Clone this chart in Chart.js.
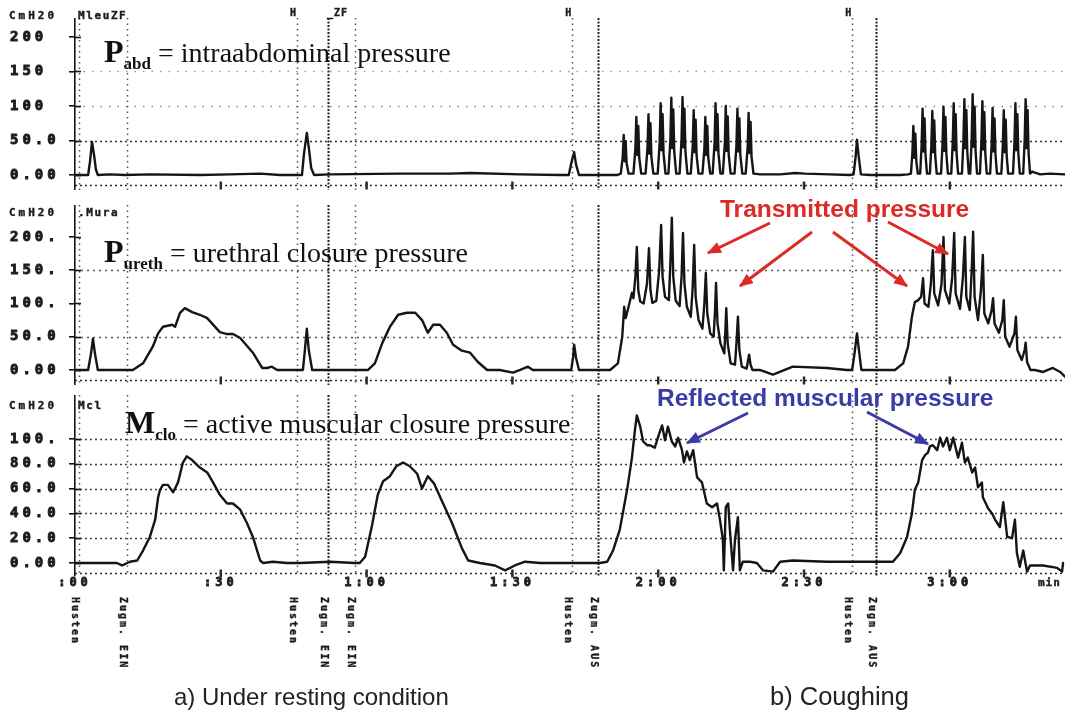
<!DOCTYPE html>
<html>
<head>
<meta charset="utf-8">
<script src="https://cdn.jsdelivr.net/npm/chart.js@4.4.1/dist/chart.umd.min.js"></script>
<style>
  html, body { margin: 0; padding: 0; background: #fff; }
  #wrap { position: relative; width: 1070px; height: 716px; overflow: hidden; background: #fff; }
  .panel { position: absolute; left: 0; width: 1070px; }
  .panel canvas { display: block; }
  .lbl { position: absolute; white-space: nowrap; line-height: 1; }
  .mono { font-family: 'DejaVu Sans Mono', monospace; font-weight: bold; color: #1c1c1c; -webkit-text-stroke: 0.4px #1c1c1c; }
  .hdr { font-size: 11px; letter-spacing: 3px; }
  .mark { font-size: 10px; letter-spacing: 1px; }
  .vert { font-size: 10px; letter-spacing: 2px; writing-mode: vertical-rl; }
  .serif { font-family: 'Liberation Serif', 'Times New Roman', serif; font-size: 28px; color: #111; }
  .serif .big { font-size: 32px; font-weight: bold; }
  .serif .sub { font-size: 17px; font-weight: bold; vertical-align: -7px; }
  .note { font-family: 'Liberation Sans', Arial, sans-serif; font-weight: bold; font-size: 24.5px; }
  .cap { font-family: 'Liberation Sans', Arial, sans-serif; font-size: 24px; color: #222; }
  svg { position: absolute; left: 0; top: 0; }
</style>
</head>
<body>
<div id="wrap">
  <div class="panel" style="top:18px"><canvas id="cAbd" width="1070" height="172"></canvas></div>
  <div class="panel" style="top:205px"><canvas id="cUre" width="1070" height="180"></canvas></div>
  <div class="panel" style="top:395px"><canvas id="cClo" width="1070" height="205"></canvas></div>

  <!-- channel headers -->
  <div class="lbl mono hdr" style="left:9px;top:10px">CmH20</div>
  <div class="lbl mono hdr" style="left:78px;top:10px;letter-spacing:1.6px">MleuZF</div>
  <div class="lbl mono hdr" style="left:9px;top:207px">CmH20</div>
  <div class="lbl mono hdr" style="left:78px;top:207px;letter-spacing:1.6px">.Mura</div>
  <div class="lbl mono hdr" style="left:9px;top:400px">CmH20</div>
  <div class="lbl mono hdr" style="left:78px;top:400px;letter-spacing:1.6px">Mcl</div>
  <div class="lbl mono mark" style="left:327px;top:8px">_ZF</div>
  <div class="lbl mono" style="left:1038px;top:577px;font-size:11px;letter-spacing:1px">min</div>

  <!-- channel names -->
  <div class="lbl serif" style="left:104px;top:35px"><span class="big">P</span><span class="sub">abd</span> = intraabdominal pressure</div>
  <div class="lbl serif" style="left:104px;top:235px"><span class="big">P</span><span class="sub">ureth</span> = urethral closure pressure</div>
  <div class="lbl serif" style="left:125px;top:406px"><span class="big">M</span><span class="sub">clo</span> = active muscular closure pressure</div>

  <!-- annotations -->
  <div class="lbl note" style="left:720px;top:197px;color:#dc2a26">Transmitted pressure</div>
  <div class="lbl note" style="left:657px;top:386px;color:#3b3ba4">Reflected muscular pressure</div>
  <svg width="1070" height="716">
    <defs>
      <marker id="headRed" viewBox="0 0 12 10" refX="11" refY="5" markerWidth="14" markerHeight="12" orient="auto" markerUnits="userSpaceOnUse">
        <path d="M0,0 L12,5 L0,10 z" fill="#dc2a26"/>
      </marker>
      <marker id="headBlue" viewBox="0 0 12 10" refX="11" refY="5" markerWidth="14" markerHeight="12" orient="auto" markerUnits="userSpaceOnUse">
        <path d="M0,0 L12,5 L0,10 z" fill="#3b3ba4"/>
      </marker>
    </defs>
    <g stroke="#dc2a26" stroke-width="3" marker-end="url(#headRed)">
      <line x1="770" y1="223" x2="708" y2="253"/>
      <line x1="812" y1="232" x2="740" y2="286"/>
      <line x1="833" y1="232" x2="907" y2="286"/>
      <line x1="888" y1="222" x2="948" y2="254"/>
    </g>
    <g stroke="#3b3ba4" stroke-width="3" marker-end="url(#headBlue)">
      <line x1="748" y1="413" x2="687" y2="443"/>
      <line x1="867" y1="412" x2="928" y2="444"/>
    </g>
  </svg>

  <div class="lbl cap" style="left:174px;top:685px">a) Under resting condition</div>
  <div class="lbl cap" style="left:770px;top:684px;font-size:25.5px">b) Coughing</div>
</div>

<script>
// ---------- time axis (seconds) ----------
const TIME_TICKS = [0, 30, 60, 90, 120, 150, 180];
const TIME_LABELS = [':00', ':30', '1:00', '1:30', '2:00', '2:30', '3:00'];
const TIME_MAX = 203.7;

// ---------- event marks ----------
const EVENT_TIMES = [0.9, 10.7, 45.7, 52.1, 57.6, 102.3, 107.6, 159.9, 164.8];
const EVENT_NAMES = ['Husten', 'Zugm. EIN', 'Husten', 'Zugm. EIN', 'Zugm. EIN',
                     'Husten', 'Zugm. AUS', 'Husten', 'Zugm. AUS'];

// ---------- P abd: intraabdominal pressure (cmH2O) ----------
const ABD_TICKS = [0, 50, 100, 150, 200];
const ABD_TICK_LABELS = ['0.00', '50.0', '100', '150', '200'];
const abdTime = [
  0, 2.7, 3.1, 3.5, 3.9, 4.3, 4.7, 7.2, 10.3, 15.4, 25.7, 31.9, 38.1, 42.2,
  46.7, 47.1, 47.7, 48.1, 48.6, 49.2, 52.5, 66.9, 77.2, 81.3, 91.6, 99.8,
  101.6, 102.2, 102.7, 103.1, 103.7, 108.0, 111.5,
  // first cough series
  112.3, 112.7, 112.9, 113.1, 113.3, 113.5, 113.9,
  114.9, 115.3, 115.5, 115.7, 115.9, 116.1, 116.5,
  117.4, 117.8, 118.0, 118.2, 118.4, 118.6, 119.0,
  119.9, 120.3, 120.5, 120.7, 120.9, 121.1, 121.5,
  122.1, 122.5, 122.7, 122.9, 123.1, 123.3, 123.7,
  124.4, 124.8, 125.0, 125.2, 125.4, 125.6, 126.0,
  126.7, 127.1, 127.3, 127.5, 127.7, 127.9, 128.3,
  129.1, 129.5, 129.7, 129.9, 130.1, 130.3, 130.7,
  131.2, 131.6, 131.8, 132.0, 132.2, 132.4, 132.8,
  133.3, 133.7, 133.9, 134.1, 134.3, 134.5, 134.9,
  135.7, 136.1, 136.3, 136.5, 136.7, 136.9, 137.3,
  138.0, 138.4, 138.6, 138.8, 139.0, 139.2, 139.6,
  141.0, 145.1, 148.2, 150.2, 155.3, 159.5,
  160.2, 160.6, 160.9, 161.2, 161.7,
  163.6, 169.8, 171.4,
  // second cough series
  172.0, 172.3, 172.5, 172.7, 172.9, 173.1, 173.4,
  173.9, 174.2, 174.4, 174.6, 174.8, 175.0, 175.3,
  175.9, 176.2, 176.4, 176.6, 176.8, 177.0, 177.3,
  178.2, 178.5, 178.7, 178.9, 179.1, 179.3, 179.6,
  180.3, 180.6, 180.8, 181.0, 181.2, 181.4, 181.7,
  182.5, 182.8, 183.0, 183.2, 183.4, 183.6, 183.9,
  184.2, 184.5, 184.7, 184.9, 185.1, 185.3, 185.6,
  186.2, 186.5, 186.7, 186.9, 187.1, 187.3, 187.6,
  188.3, 188.6, 188.8, 189.0, 189.2, 189.4, 189.7,
  190.6, 190.9, 191.1, 191.3, 191.5, 191.7, 192.0,
  193.0, 193.3, 193.5, 193.7, 193.9, 194.1, 194.4,
  195.1, 195.4, 195.6, 195.8, 196.0, 196.2, 196.5,
  196.9, 198.6, 200.6, 203.7
];
const abdValue = [
  0, 0, 20, 48, 30, 8, 0, 1, 0, 1, 0, 1, 2, 0,
  0, 30, 61, 40, 10, 0, 1, 2, 2, 3, 1, 0,
  0, 20, 33, 15, 0, 0, 0,
  2, 26, 58, 20, 49, 17, 2,
  2, 38, 84, 29, 71, 25, 2,
  2, 40, 88, 31, 75, 26, 2,
  2, 47, 104, 36, 88, 31, 2,
  2, 50, 112, 39, 95, 34, 2,
  2, 51, 113, 40, 96, 34, 2,
  2, 42, 94, 33, 80, 28, 2,
  2, 38, 84, 29, 71, 25, 2,
  2, 47, 104, 36, 88, 31, 2,
  2, 45, 100, 35, 85, 30, 2,
  2, 43, 96, 34, 82, 29, 2,
  2, 40, 90, 32, 77, 27, 2,
  1, 1, 3, 2, 1, 0,
  1, 25, 51, 30, 1,
  0, 0, 1,
  2, 32, 71, 25, 60, 21, 2,
  2, 43, 96, 34, 82, 29, 2,
  2, 42, 93, 33, 79, 28, 2,
  2, 45, 99, 35, 84, 30, 2,
  2, 47, 104, 36, 88, 31, 2,
  2, 50, 110, 39, 94, 33, 2,
  2, 53, 117, 41, 99, 35, 2,
  2, 48, 107, 37, 91, 32, 2,
  2, 44, 97, 34, 82, 29, 2,
  2, 42, 94, 33, 80, 28, 2,
  2, 47, 104, 36, 88, 31, 2,
  2, 50, 110, 39, 94, 33, 2,
  5, 1, 2, 1
];

// ---------- P ureth: urethral closure pressure (cmH2O) ----------
const URE_TICKS = [0, 50, 100, 150, 200];
const URE_TICK_LABELS = ['0.00', '50.0', '100.', '150.', '200.'];
const ureTime = [
  0, 2.7, 3.3, 3.7, 4.1, 4.7, 11.9,
  14.0, 16.0, 17.1, 18.1, 20.0, 20.6, 21.6, 22.6, 24.1, 25.7, 27.2, 29.8, 31.3,
  32.5, 34.0, 36.6, 38.5, 39.5, 40.5, 41.6, 46.3,
  46.9, 47.3, 47.7, 48.1, 48.8, 58.6,
  60.3, 61.7, 63.2, 64.8, 66.5, 68.3, 70.0, 71.4, 72.6, 73.7, 75.1, 76.5,
  77.8, 79.6, 81.3, 82.9, 84.8, 87.4, 90.1, 91.6, 93.2, 94.2, 101.4,
  102.1, 102.5, 102.7, 103.1, 103.7, 108.0, 110.1,
  111.7, 112.6, 113.0, 113.3, 113.8, 114.6, 114.9, 115.3, 115.6, 115.9,
  116.3, 117.0, 117.7, 118.1, 118.4, 118.8, 119.6, 120.2, 120.6, 120.9,
  121.4, 122.2, 122.5, 122.8, 123.1, 123.6, 124.4, 124.8, 125.1, 125.4,
  125.9, 126.7, 127.1, 127.4, 127.7, 128.3, 129.1, 129.5, 129.8, 130.1,
  130.7, 131.4, 131.7, 131.9, 132.2, 132.8, 133.6, 133.8, 134.0, 134.3,
  134.9, 135.8, 136.1, 136.4, 136.7, 137.2, 138.2, 138.5, 138.7, 139.0, 139.4,
  140.9, 143.6, 147.7, 154.7, 158.8,
  159.9, 160.4, 160.9, 161.3, 161.8, 164.2, 168.7,
  170.4, 171.4, 172.2, 172.8, 173.5,
  174.1, 174.5, 174.8, 175.6, 176.1, 176.5, 176.8, 177.6, 178.3, 178.7,
  179.0, 179.9, 180.5, 180.9, 181.2, 182.1, 182.7, 183.1, 183.4, 184.1,
  184.5, 184.8, 185.1, 185.8, 186.4, 186.8, 187.1, 187.9, 188.6, 188.9,
  189.2, 190.1, 190.8, 191.1, 191.4, 192.3, 193.3, 193.6, 193.9, 194.8,
  195.4, 195.6, 195.9, 196.6, 197.5, 199.2, 201.2, 202.7, 203.7
];
const ureValue = [
  0, 0, 25, 47, 25, 0, 0,
  10, 35, 55, 65, 68, 65, 86, 93, 87, 83, 78, 57, 54,
  54, 48, 26, 3, 3, 5, 0, 0,
  0, 30, 62, 30, 0, 0,
  0, 10, 40, 65, 83, 86, 86, 75, 56, 68, 68, 56,
  38, 29, 26, 12, 0, 0, -4, 0, 5, 0, 0,
  0, 20, 38, 18, 0, 0, 0,
  10, 50, 95, 78, 92, 116, 108, 140, 185, 120,
  103, 100, 130, 183, 120, 101, 104, 150, 218, 140,
  110, 105, 160, 229, 140, 104, 96, 140, 206, 130,
  95, 80, 125, 188, 110, 75, 62, 100, 146, 85,
  55, 50, 90, 131, 70, 40, 25, 55, 93, 40,
  10, 8, 40, 80, 30, 5, 2, 15, 23, 8, 0,
  0, -7, 5, 3, 0,
  0, 25, 55, 30, 0, 0, 0,
  10, 35, 80, 102, 105,
  110, 138, 100, 95, 130, 180, 115, 97, 130, 200,
  120, 100, 140, 206, 115, 92, 140, 200, 110, 90,
  150, 208, 110, 75, 120, 173, 85, 70, 90, 108,
  70, 56, 75, 105, 50, 35, 55, 80, 30, 15,
  30, 41, 12, 0, 0, -3, 3, -3, -10
];

// ---------- M clo: active muscular closure pressure (cmH2O) ----------
const CLO_TICKS = [0, 20, 40, 60, 80, 100];
const CLO_TICK_LABELS = ['0.00', '20.0', '40.0', '60.0', '80.0', '100.'];
const cloTime = [
  0, 8.6, 9.7, 11.3, 12.8, 14.0, 15.4, 16.5, 17.1, 17.5,
  18.1, 19.1, 20.2, 21.2, 22.2, 23.0, 24.1, 25.7, 27.2, 28.4,
  29.8, 31.3, 32.5, 34.0, 35.4, 36.6, 38.1, 38.7, 40.7, 43.6,
  46.3, 52.5, 57.6,
  58.6, 59.7, 61.1, 62.3, 63.4, 64.8, 66.1, 67.5, 68.9, 70.4,
  71.4, 72.6, 73.9, 75.5, 77.6, 79.6, 80.9, 83.3, 86.4, 88.5,
  90.5, 92.6, 95.7, 108.0,
  109.5, 110.7, 112.1, 113.6, 114.6, 115.2, 115.6, 116.3, 116.9, 117.7,
  118.3, 119.3, 120.0, 120.8, 121.4, 122.0, 122.8, 123.5, 124.1, 124.9,
  125.3, 125.9, 126.5, 127.2, 128.0, 129.0, 130.0, 131.1, 132.1, 132.7,
  133.3, 133.5, 133.9, 134.4, 134.8, 135.4, 135.8, 136.4, 136.8, 137.4,
  138.9, 140.3, 141.6, 143.6, 145.1, 147.7, 154.7, 161.5, 168.3,
  169.8, 171.2, 172.2, 172.8, 173.5, 174.3, 174.9, 175.5, 175.9, 176.5,
  177.4, 178.0, 178.6, 179.4, 180.0, 180.7, 181.7, 182.5, 183.1, 183.7,
  184.6, 185.2, 185.8, 186.6, 186.8, 187.9, 188.7, 189.3, 190.3, 191.0,
  191.8, 192.8, 193.4, 193.8, 194.4, 195.1, 195.9, 196.5, 199.2, 202.1,
  203.1, 203.3
];
const cloValue = [
  0, 0, -2, 1, 2, 10, 21, 35, 53, 59,
  63, 63, 57, 65, 81, 86, 83, 77, 73, 65,
  55, 48, 48, 43, 32, 21, 2, 0, 1, 0,
  0, 1, 0,
  0, 5, 30, 55, 66, 70, 78, 81, 78, 72,
  60, 70, 64, 50, 32, 12, 2, 0, -2, -6,
  -2, 1, 0, 0,
  1, 10, 27, 59, 85, 107, 119, 110, 98, 95,
  95, 93, 102, 111, 99, 110, 98, 94, 101, 91,
  81, 90, 83, 91, 69, 65, 48, 45, 48, 35,
  19, -6, 45, 48, 24, -6, 19, 37, -6, 1,
  1, 0, -6, -7, 1, 2, 1, 1, 1,
  8, 21, 40, 59, 65, 83, 87, 89, 94, 95,
  91, 101, 94, 101, 91, 101, 85, 97, 81, 85,
  73, 77, 61, 65, 53, 44, 40, 35, 29, 49,
  21, 20, 35, 8, -3, 10, -7, -2, -2, -4,
  -7, 0
];

// ---------- drawing helpers ----------
const INK = '#151515';
const TICK_FONT = { family: "'DejaVu Sans Mono', monospace", weight: 'bold' };

// Dotted reference levels, the dotted time rule and the event markers.
const recorderGrid = {
  id: 'recorderGrid',
  beforeDraw(chart) { chart.ctx.letterSpacing = '4px'; },
  beforeDatasetsDraw(chart, args, o) {
    const { ctx, chartArea: a, scales: { x, y } } = chart;
    ctx.save();
    ctx.letterSpacing = '0px';
    ctx.lineCap = 'butt';

    o.levels.forEach(lv => {
      const py = Math.round(y.getPixelForValue(lv.value)) + 0.5;
      ctx.setLineDash(lv.dash);
      ctx.strokeStyle = lv.color;
      ctx.lineWidth = lv.width;
      ctx.beginPath(); ctx.moveTo(a.left, py); ctx.lineTo(a.right, py); ctx.stroke();
    });

    const ry = Math.round(y.getPixelForValue(o.rule)) + 0.5;
    ctx.setLineDash([2, 3]);
    ctx.strokeStyle = '#2a2a2a';
    ctx.lineWidth = 1.5;
    ctx.beginPath(); ctx.moveTo(a.left, ry); ctx.lineTo(a.right, ry); ctx.stroke();
    ctx.setLineDash([]);
    ctx.lineWidth = 2.5;
    TIME_TICKS.slice(1).forEach(t => {
      const px = x.getPixelForValue(t);
      ctx.beginPath(); ctx.moveTo(px, ry - 4); ctx.lineTo(px, ry + 4); ctx.stroke();
    });

    EVENT_TIMES.forEach((t, i) => {
      const px = Math.round(x.getPixelForValue(t)) + 0.5;
      const dense = o.dense.includes(i);
      ctx.setLineDash(dense ? [2, 1.5] : [1.5, 4]);
      ctx.strokeStyle = dense ? '#222' : '#555';
      ctx.lineWidth = dense ? 2 : 1.5;
      ctx.beginPath(); ctx.moveTo(px, a.top); ctx.lineTo(px, a.bottom); ctx.stroke();
    });

    // right-hand arm of the "+" tick marks on the pressure axis
    ctx.setLineDash([]);
    ctx.strokeStyle = INK;
    ctx.lineWidth = 1.6;
    y.ticks.forEach(tk => {
      const py = Math.round(y.getPixelForValue(tk.value)) + 0.5;
      ctx.beginPath(); ctx.moveTo(a.left, py); ctx.lineTo(a.left + 6, py); ctx.stroke();
    });
    ctx.restore();
  }
};

function makePanel(id, time, value, yMin, yMax, ticks, tickLabels, gridOpts, showTime) {
  return new Chart(document.getElementById(id), {
    type: 'line',
    data: {
      datasets: [{
        data: time.map((t, i) => ({ x: t, y: value[i] })),
        borderColor: INK,
        borderWidth: 2.4,
        pointRadius: 0,
        tension: 0,
        fill: false,
        borderJoinStyle: 'round',
        borderCapStyle: 'round'
      }]
    },
    options: {
      responsive: false,
      animation: false,
      devicePixelRatio: 1,
      layout: { padding: { left: 10, right: 5, top: 0, bottom: 0 } },
      plugins: { legend: { display: false }, tooltip: { enabled: false }, recorderGrid: gridOpts },
      scales: {
        x: {
          type: 'linear', min: 0, max: TIME_MAX, display: showTime,
          grid: { display: false, drawTicks: false, tickLength: 0 },
          border: { display: false },
          afterBuildTicks: s => { s.ticks = TIME_TICKS.map(v => ({ value: v })); },
          afterFit: s => {
            if (showTime) s.height = 24;
            s.paddingLeft = 0; s.paddingRight = 0;
          },
          ticks: {
            padding: 0, maxRotation: 0, autoSkip: false, color: '#1c1c1c',
            textStrokeColor: '#1c1c1c', textStrokeWidth: 0.8,
            font: { ...TICK_FONT, size: 12 },
            callback: v => TIME_LABELS[TIME_TICKS.indexOf(v)]
          }
        },
        y: {
          type: 'linear', min: yMin, max: yMax, position: 'left',
          afterBuildTicks: s => { s.ticks = ticks.map(v => ({ value: v })); },
          afterFit: s => { s.width = 65; s.paddingTop = 0; s.paddingBottom = 0; },
          grid: { drawOnChartArea: false, drawTicks: true, tickLength: 6, color: INK, lineWidth: 1.6 },
          border: { display: true, color: INK, width: 1.6 },
          ticks: {
            crossAlign: 'far', autoSkip: false, color: '#1c1c1c',
            textStrokeColor: '#1c1c1c', textStrokeWidth: 0.9,
            font: { ...TICK_FONT, size: 14 },
            callback: v => tickLabels[ticks.indexOf(v)]
          }
        }
      }
    },
    plugins: [recorderGrid]
  });
}

const DENSE = [3, 6, 8];

makePanel('cAbd', abdTime, abdValue, -21.7, 227.5, ABD_TICKS, ABD_TICK_LABELS, {
  levels: [
    { value: 50, dash: [2, 3], color: '#333', width: 1.5 },
    { value: 100, dash: [1.5, 7], color: '#8a8a8a', width: 1.3 },
    { value: 150, dash: [1.5, 7], color: '#9a9a9a', width: 1.3 }
  ],
  rule: -14.5, dense: DENSE
}, false);

makePanel('cUre', ureTime, ureValue, -22.6, 248.1, URE_TICKS, URE_TICK_LABELS, {
  levels: [
    { value: 50, dash: [2, 4], color: '#555', width: 1.4 },
    { value: 150, dash: [2, 4], color: '#555', width: 1.4 }
  ],
  rule: -15, dense: DENSE
}, false);

const cloChart = makePanel('cClo', cloTime, cloValue, -10.5, 135.5, CLO_TICKS, CLO_TICK_LABELS, {
  levels: [20, 40, 60, 80, 100].map(v => ({ value: v, dash: [2, 3], color: '#444', width: 1.4 })),
  rule: -8, dense: DENSE
}, true);

// event names under the time axis, and the "H" marks over the top trace
const wrap = document.getElementById('wrap');
EVENT_TIMES.forEach((t, i) => {
  const px = cloChart.scales.x.getPixelForValue(t);
  const d = document.createElement('div');
  d.className = 'lbl mono vert';
  d.textContent = EVENT_NAMES[i];
  d.style.left = (px - 9) + 'px';
  d.style.top = '597px';
  wrap.appendChild(d);
  if (EVENT_NAMES[i] === 'Husten' && i > 0) {
    const h = document.createElement('div');
    h.className = 'lbl mono mark';
    h.textContent = 'H';
    h.style.left = (px - 7) + 'px';
    h.style.top = '8px';
    wrap.appendChild(h);
  }
});
</script>
</body>
</html>
